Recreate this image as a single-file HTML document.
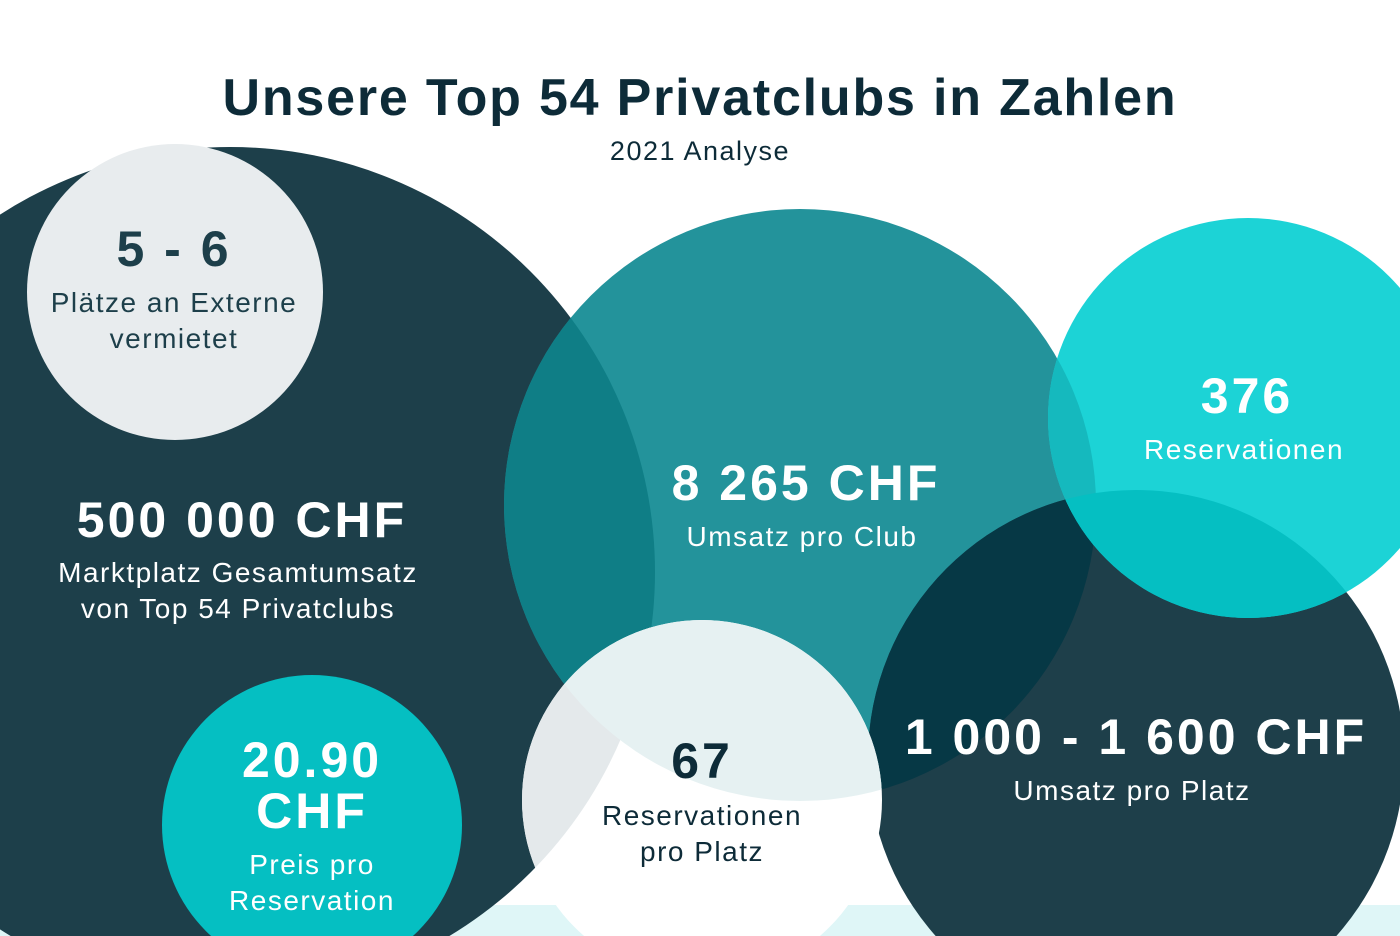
<!DOCTYPE html>
<html><head><meta charset="utf-8">
<style>
html,body{margin:0;padding:0;background:#fff;width:1400px;height:936px;overflow:hidden;}
svg{display:block;font-family:"Liberation Sans",sans-serif;}
.v{letter-spacing:3px;}
.l{letter-spacing:1.5px;}
</style></head>
<body>
<svg width="1400" height="936" viewBox="0 0 1400 936" overflow="hidden">
<defs>
<clipPath id="cTeal"><circle cx="800" cy="505" r="296"/></clipPath>
<clipPath id="cDark"><circle cx="230" cy="572" r="425"/></clipPath>
<clipPath id="cDarkBR"><circle cx="1136" cy="758" r="268"/></clipPath>
<clipPath id="cCyan"><circle cx="1248" cy="418" r="200"/></clipPath>
<clipPath id="cWhite"><circle cx="702" cy="800" r="180"/></clipPath>
<clipPath id="frame"><rect x="0" y="0" width="1400" height="936"/></clipPath>
</defs>
<g clip-path="url(#frame)">
<rect x="0" y="0" width="1400" height="936" fill="#fff"/>
<rect x="0" y="905" width="1400" height="31" fill="#dff6f7"/>
<circle cx="230" cy="572" r="425" fill="#1d3f4a"/>
<circle cx="175" cy="292" r="148" fill="#e8ecee"/>
<circle cx="800" cy="505" r="296" fill="#23939b"/>
<circle cx="800" cy="505" r="296" fill="#0f7e86" clip-path="url(#cDark)"/>
<circle cx="1136" cy="758" r="268" fill="#1e3f4a"/>
<circle cx="1136" cy="758" r="268" fill="#063845" clip-path="url(#cTeal)"/>
<circle cx="1248" cy="418" r="200" fill="#1cd3d6"/>
<circle cx="1248" cy="418" r="200" fill="#15b9be" clip-path="url(#cTeal)"/>
<circle cx="1248" cy="418" r="200" fill="#05bfc2" clip-path="url(#cDarkBR)"/>
<circle cx="702" cy="800" r="180" fill="#ffffff"/>
<circle cx="702" cy="800" r="180" fill="#e4e9eb" clip-path="url(#cDark)"/>
<circle cx="702" cy="800" r="180" fill="#e6f1f2" clip-path="url(#cTeal)"/>
<circle cx="312" cy="825" r="150" fill="#05bfc2"/>

<g text-anchor="middle">
<text x="700" y="115" font-size="52" font-weight="bold" fill="#0d2b38" letter-spacing="1.8">Unsere Top 54 Privatclubs in Zahlen</text>
<text x="700" y="160" font-size="27" fill="#0d2b38" class="l">2021 Analyse</text>

<text x="174" y="266" font-size="50" font-weight="bold" fill="#1d3f4a" class="v">5 - 6</text>
<text x="174" y="312" font-size="28" fill="#1d3f4a" class="l">Plätze an Externe</text>
<text x="174" y="348" font-size="28" fill="#1d3f4a" class="l">vermietet</text>

<text x="242" y="537" font-size="50" font-weight="bold" fill="#fff" class="v">500 000 CHF</text>
<text x="238" y="582" font-size="28" fill="#fff" class="l">Marktplatz Gesamtumsatz</text>
<text x="238" y="618" font-size="28" fill="#fff" class="l">von Top 54 Privatclubs</text>

<text x="806" y="500" font-size="50" font-weight="bold" fill="#fff" class="v">8 265 CHF</text>
<text x="802" y="546" font-size="28" fill="#fff" class="l">Umsatz pro Club</text>

<text x="1247" y="413" font-size="50" font-weight="bold" fill="#fff" class="v">376</text>
<text x="1244" y="459" font-size="28" fill="#fff" class="l">Reservationen</text>

<text x="1136" y="754" font-size="50" font-weight="bold" fill="#fff" class="v">1 000 - 1 600 CHF</text>
<text x="1132" y="800" font-size="28" fill="#fff" class="l">Umsatz pro Platz</text>

<text x="702" y="778" font-size="50" font-weight="bold" fill="#0d2b38" class="v">67</text>
<text x="702" y="825" font-size="28" fill="#0d2b38" class="l">Reservationen</text>
<text x="702" y="861" font-size="28" fill="#0d2b38" class="l">pro Platz</text>

<text x="312" y="777" font-size="50" font-weight="bold" fill="#fff" class="v">20.90</text>
<text x="312" y="828" font-size="50" font-weight="bold" fill="#fff" class="v">CHF</text>
<text x="312" y="874" font-size="28" fill="#fff" class="l">Preis pro</text>
<text x="312" y="910" font-size="28" fill="#fff" class="l">Reservation</text>
</g>
</g>
</svg>
</body></html>
